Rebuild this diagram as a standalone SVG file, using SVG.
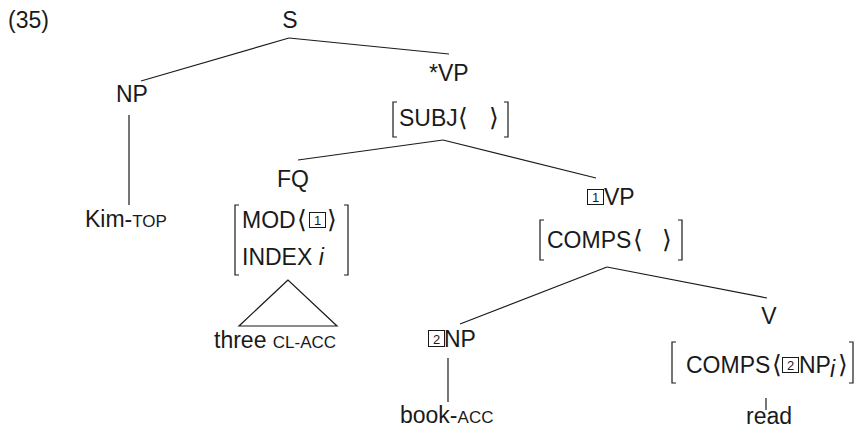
<svg xmlns="http://www.w3.org/2000/svg" width="856" height="428" viewBox="0 0 856 428">
  <style>
    text { font-family: "Liberation Sans", Arial, sans-serif; font-size: 23px; fill: #1a1a1a; }
    .sc { font-size: 17px; }
    .ang { font-family: "DejaVu Sans", sans-serif; font-size: 25px; font-weight: 200; }
    .it { font-style: italic; }
    .tag { font-size: 13px; }
    .edge, .brk, .box, .tri { fill: none; stroke: #1a1a1a; stroke-width: 1.2; }
    .box { stroke-width: 1; }
  </style>

  <text x="8" y="28">(35)</text>

  <!-- tree edges -->
  <g id="connectors">
    <line class="edge" x1="289" y1="38" x2="141" y2="81"/>
    <line class="edge" x1="289" y1="38" x2="449" y2="54"/>
    <line class="edge" x1="129" y1="115" x2="129" y2="205"/>
    <line class="edge" x1="443" y1="140" x2="298" y2="160"/>
    <line class="edge" x1="443" y1="140" x2="596" y2="178"/>
    <line class="edge" x1="607" y1="267" x2="460" y2="324"/>
    <line class="edge" x1="607" y1="267" x2="767" y2="298"/>
    <line class="edge" x1="448" y1="358" x2="448" y2="402"/>
    <line class="edge" x1="766" y1="398" x2="766" y2="410"/>
  </g>

  <g id="S">
    <text x="290" y="28" text-anchor="middle">S</text>
  </g>

  <g id="NP-subj">
    <text x="116" y="102">NP</text>
  </g>

  <g id="Kim">
    <text x="85" y="227">Kim-<tspan class="sc">TOP</tspan></text>
  </g>

  <g id="VP-top">
    <text x="429" y="81">*VP</text>
    <polyline class="brk" points="397,102 393,102 393,137 397,137"/>
    <polyline class="brk" points="504,102 508,102 508,137 504,137"/>
    <text x="399" y="126">SUBJ</text>
    <text class="ang" x="458" y="126">⟨</text>
    <text class="ang" x="489" y="126">⟩</text>
  </g>

  <g id="FQ">
    <text x="293" y="187" text-anchor="middle">FQ</text>
    <polyline class="brk" points="239,205 235,205 235,275 239,275"/>
    <polyline class="brk" points="344,205 348,205 348,275 344,275"/>
    <text x="242" y="228">MOD</text>
    <text class="ang" x="297" y="228">⟨</text>
    <rect class="box" x="309.5" y="212.5" width="16" height="15"/>
    <text class="tag" x="317.5" y="225" text-anchor="middle">1</text>
    <text class="ang" x="327" y="228">⟩</text>
    <text x="242" y="265">INDEX <tspan class="it">i</tspan></text>
  </g>

  <g id="FQ-yield">
    <polygon class="tri" points="288,280 239,326 337,326"/>
    <text x="214" y="348">three <tspan class="sc">CL-ACC</tspan></text>
  </g>

  <g id="VP-lower">
    <rect class="box" x="587.5" y="189.5" width="16" height="15"/>
    <text class="tag" x="595.5" y="202" text-anchor="middle">1</text>
    <text x="604" y="205">VP</text>
    <polyline class="brk" points="544,220 540,220 540,260 544,260"/>
    <polyline class="brk" points="678,220 682,220 682,260 678,260"/>
    <text x="547" y="248">COMPS</text>
    <text class="ang" x="633" y="248">⟨</text>
    <text class="ang" x="662" y="248">⟩</text>
  </g>

  <g id="NP-obj">
    <rect class="box" x="428.5" y="330.5" width="16" height="16"/>
    <text class="tag" x="436.5" y="343.5" text-anchor="middle">2</text>
    <text x="444" y="347">NP</text>
    <text x="400" y="423">book-<tspan class="sc">ACC</tspan></text>
  </g>

  <g id="V">
    <text x="769" y="324" text-anchor="middle">V</text>
    <polyline class="brk" points="676,342 672,342 672,383 676,383"/>
    <polyline class="brk" points="849,342 853,342 853,383 849,383"/>
    <text x="686" y="373">COMPS</text>
    <text class="ang" x="772" y="373">⟨</text>
    <rect class="box" x="782.5" y="357.5" width="16" height="15"/>
    <text class="tag" x="790.5" y="370" text-anchor="middle">2</text>
    <text x="799" y="373">NP</text>
    <text class="it" x="830" y="377" font-size="14">i</text>
    <text class="ang" x="838" y="373">⟩</text>
    <text x="746" y="424">read</text>
  </g>
</svg>
